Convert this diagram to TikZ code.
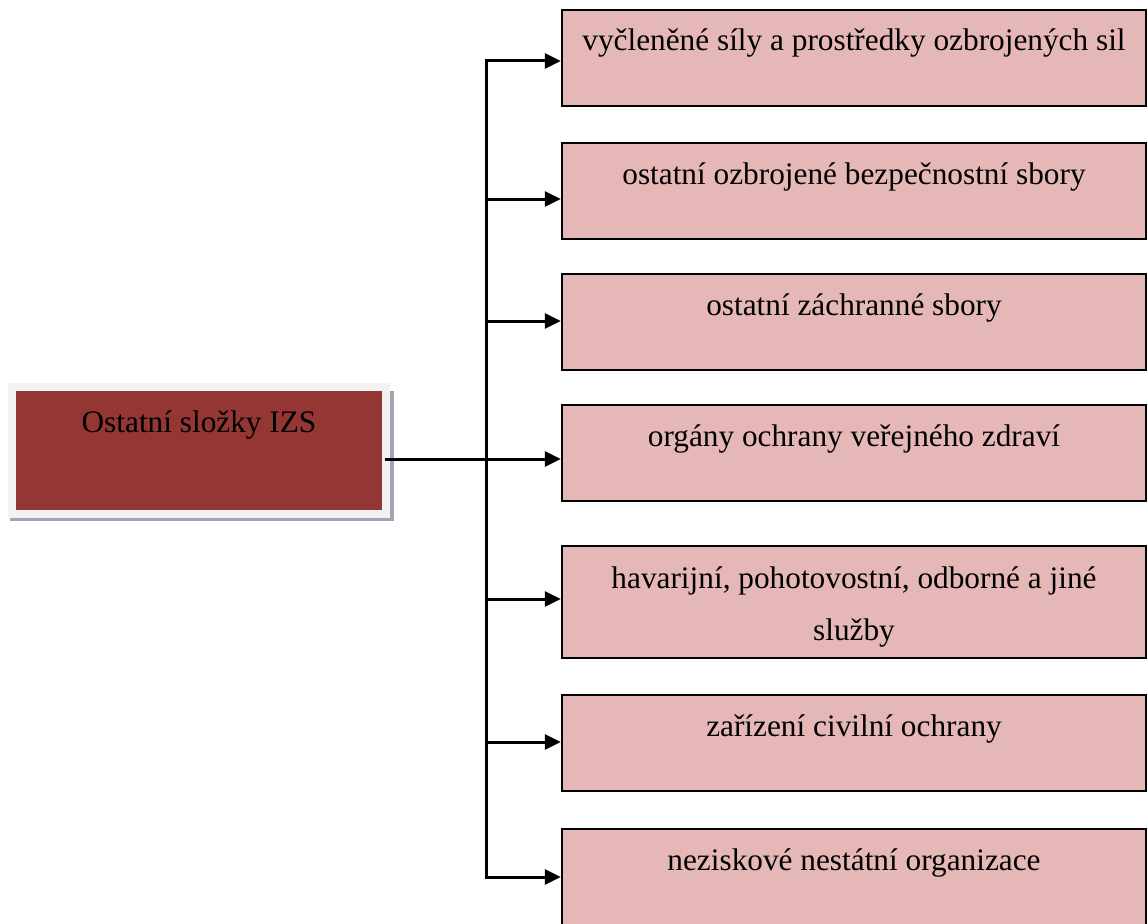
\documentclass[tikz,border=0pt]{standalone}
\usepackage{fontspec}
\setmainfont{Liberation Serif}
\usetikzlibrary{arrows.meta,shadows}
\definecolor{boxpink}{HTML}{E5B8B7}
\definecolor{izsred}{HTML}{943634}
\definecolor{framegray}{HTML}{F2F2F2}
\definecolor{shadowgray}{HTML}{A6A1B3}
\tikzset{
	sluzba/.style={draw=black, line width=2.5pt, fill=boxpink, minimum width=584pt,
		inner sep=0pt, align=center, anchor=base, text height=41pt, text depth=55pt},
	slozky/.style={draw=framegray, line width=8pt, fill=izsred, minimum width=374pt,
		inner sep=0pt, anchor=base, text height=45pt, text depth=82pt,
		drop shadow={shadow xshift=3pt, shadow yshift=-5pt, shadow scale=1.025,
			fill=shadowgray, opacity=1}},
}
\begin{document}
\begin{tikzpicture}[x=1pt, y=-1pt, >={Triangle[length=16pt,width=15pt]},
		line width=3pt, font=\fontsize{31.3}{52}\selectfont]
		\useasboundingbox (0,0) rectangle (1147,923);
		\clip (0,0) rectangle (1147,923);
		
		% Nodes
		\node[slozky] (izs) at (199,432) {Ostatní složky IZS};
		
		\node[sluzba] (s1) at (854,51) {vyčleněné síly a prostředky ozbrojených sil};
		\node[sluzba] (s2) at (854,184) {ostatní ozbrojené bezpečnostní sbory};
		\node[sluzba] (s3) at (854,315) {ostatní záchranné sbory};
		\node[sluzba] (s4) at (854,446) {orgány ochrany veřejného zdraví};
		\node[sluzba, text height=94pt, text depth=18pt] (s5) at (854,640)
			{havarijní, pohotovostní, odborné a jiné\\ služby};
		\node[sluzba] (s6) at (854,736) {zařízení civilní ochrany};
		\node[sluzba] (s7) at (854,870) {neziskové nestátní organizace};
		
		% Edges
		\coordinate (spine) at (486,0);
		\draw[line cap=rect] ([yshift=-3pt]s1.west -| spine) -- (s7.west -| spine);
		
		\draw[->] ([xshift=-5pt,yshift=-8.5pt]izs.east) -- ([yshift=-6pt]s4.west);
		
		\draw[->] ([yshift=-3pt]s1.west -| spine) -- ([yshift=-3pt]s1.west);
		\draw[->] ([yshift=-8pt]s2.west -| spine) -- ([yshift=-8pt]s2.west);
		\draw[->] ([yshift=1pt]s3.west -| spine) -- ([yshift=1pt]s3.west);
		\draw[->] ([yshift=3pt]s5.west -| spine) -- ([yshift=3pt]s5.west);
		\draw[->] ([yshift=1pt]s6.west -| spine) -- ([yshift=1pt]s6.west);
		\draw[->] (s7.west -| spine) -- (s7.west);
		
	\end{tikzpicture}
\end{document}
